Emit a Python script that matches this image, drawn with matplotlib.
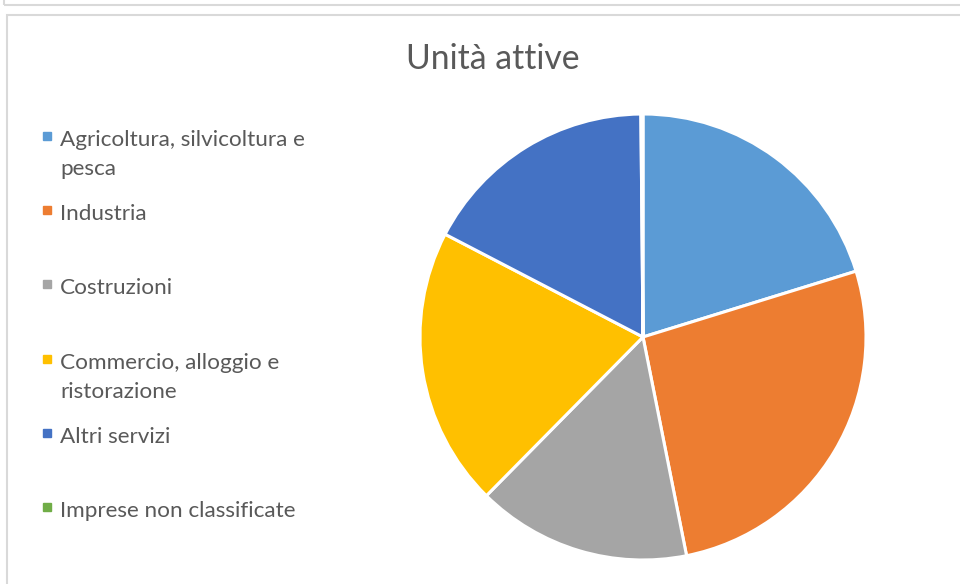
import matplotlib as mpl
mpl.use('Agg')
import matplotlib.pyplot as plt
from matplotlib.patches import Rectangle

plt.rcParams['font.family'] = ['Lato', 'DejaVu Sans']

title = 'Unità attive'
categories = ['Agricoltura, silvicoltura e\npesca', 'Industria', 'Costruzioni',
              'Commercio, alloggio e\nristorazione', 'Altri servizi',
              'Imprese non classificate']
values = [20.2, 26.6, 15.5, 20.2, 17.2, 0.15]
colors = ['#5B9BD5', '#ED7D31', '#A5A5A5', '#FFC000', '#4472C4', '#70AD47']

W, H = 960, 584
fig = plt.figure(figsize=(W / 100, H / 100), dpi=100)
fig.patch.set_facecolor('white')

# frames (previous chart box at top, this chart's box)
fig.add_artist(Rectangle((4 / W, 1 - 5 / H), 1.2, 0.2, transform=fig.transFigure,
                         fill=False, edgecolor='#D9D9D9', linewidth=1.5))
fig.add_artist(Rectangle((7 / W, -0.2), 1.2, 1.2 - 15 / H, transform=fig.transFigure,
                         fill=False, edgecolor='#D9D9D9', linewidth=1.5))

# pie
cx, cy, r = 643, H - 337, 223
ax = fig.add_axes([(cx - r) / W, (cy - r) / H, 2 * r / W, 2 * r / H])
ax.pie(values, colors=colors, startangle=90, counterclock=False, radius=1,
       wedgeprops=dict(edgecolor='white', linewidth=2.2))
ax.set_xlim(-1.0, 1.0)
ax.set_ylim(-1.0, 1.0)
ax.set_aspect('auto')
ax.axis('off')

# text layer in pixel coordinates
lax = fig.add_axes([0, 0, 1, 1])
lax.set_xlim(0, W)
lax.set_ylim(H, 0)
lax.axis('off')
lax.patch.set_alpha(0)

lax.text(493, 69, title, ha='center', va='baseline', fontsize=24.3, color='#595959')

y0, step, line_h = 146, 74.2, 29
for i, (lab, col) in enumerate(zip(categories, colors)):
    y = y0 + i * step
    lax.plot(46.5, y - 10, marker='s', markersize=5.3, color=col, linestyle='none')
    for k, line in enumerate(lab.split('\n')):
        lax.text(60, y + k * line_h, line, ha='left', va='baseline',
                 fontsize=16.2, color='#595959')

fig.savefig('out.png', dpi=100)
